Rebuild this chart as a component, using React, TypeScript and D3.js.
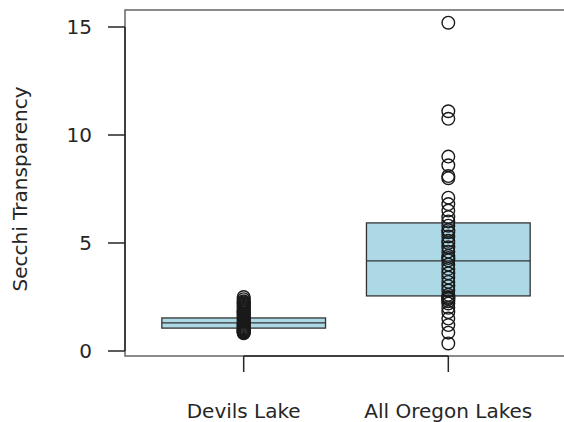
import React from "react";
import * as d3 from "d3";

// groups and their box statistics (lower hinge, median, upper hinge)
const groups = ["Devils Lake", "All Oregon Lakes"];
const lowerHinge = [1.06, 2.55];
const medians = [1.3, 4.17];
const upperHinge = [1.53, 5.93];

// individual secchi readings, overlaid on each box
const devilsLake = [
  2.5, 2.4, 2.3, 2.25, 2.2, 2.15, 2.1, 2.05, 2.0, 1.95, 1.9, 1.85, 1.8, 1.75,
  1.7, 1.65, 1.6, 1.55, 1.5, 1.45, 1.4, 1.35, 1.3, 1.25, 1.2, 1.15, 1.1, 1.05,
  1.0, 0.97, 0.95, 0.92, 0.9, 0.88, 0.85, 0.82,
];
const oregonLakes = [
  15.2, 11.1, 10.75, 9.0, 8.6, 8.1, 8.0, 7.1, 6.8, 6.5, 6.2, 6.0, 5.8, 5.6,
  5.5, 5.3, 5.1, 5.0, 4.8, 4.6, 4.4, 4.3, 4.2, 4.0, 3.8, 3.6, 3.4, 3.2, 3.0,
  2.8, 2.6, 2.5, 2.45, 2.4, 2.3, 2.2, 2.0, 1.8, 1.5, 1.2, 0.85, 0.35,
];
const readings = [devilsLake, oregonLakes];
const yTicks = [0, 5, 10, 15];

const W = 564;
const H = 422;
const left = 125;
const right = 567;
const top = 10;
const bottom = 356;
const font = "DejaVu Sans, sans-serif";
const ink = "#262626";

export default function App() {
  const x = d3.scalePoint().domain(groups).range([left, right]).padding(0.58);
  const y = d3.scaleLinear().domain([0, 15]).range([351, 27]);
  const boxW = x.step() * 0.8;

  return (
    <svg
      width={W}
      height={H}
      style={{ position: "absolute", left: 0, top: 0, background: "#fff" }}
    >
      {/* plot frame */}
      <rect
        x={left}
        y={top}
        width={right - left}
        height={bottom - top}
        fill="none"
        stroke="#666"
        strokeWidth={1.5}
      />

      {groups.map((g, i) => {
        const cx = x(g)!;
        return (
          <g key={g}>
            <rect
              x={cx - boxW / 2}
              y={y(upperHinge[i])}
              width={boxW}
              height={y(lowerHinge[i]) - y(upperHinge[i])}
              fill="#add8e6"
              stroke="#333"
              strokeWidth={1.3}
            />
            <line
              x1={cx - boxW / 2}
              x2={cx + boxW / 2}
              y1={y(medians[i])}
              y2={y(medians[i])}
              stroke="#333"
              strokeWidth={1.3}
            />
            {readings[i].map((v, j) => (
              <circle
                key={j}
                cx={cx}
                cy={y(v)}
                r={6.3}
                fill="none"
                stroke="#1a1a1a"
                strokeWidth={1.4}
              />
            ))}
          </g>
        );
      })}

      {/* y axis */}
      <line x1={left} x2={left} y1={y(15)} y2={y(0)} stroke={ink} strokeWidth={1.5} />
      {yTicks.map((t) => (
        <g key={t}>
          <line x1={108} x2={left} y1={y(t)} y2={y(t)} stroke={ink} strokeWidth={1.5} />
          <text
            x={92}
            y={y(t)}
            dy="0.36em"
            textAnchor="end"
            fontFamily={font}
            fontSize={20}
            fill={ink}
          >
            {t}
          </text>
        </g>
      ))}
      <text
        transform={`translate(27,${(y(0) + y(15)) / 2}) rotate(-90)`}
        textAnchor="middle"
        fontFamily={font}
        fontSize={20}
        fill={ink}
      >
        Secchi Transparency
      </text>

      {/* x axis */}
      <line
        x1={x(groups[0])}
        x2={x(groups[1])}
        y1={bottom}
        y2={bottom}
        stroke={ink}
        strokeWidth={1.5}
      />
      {groups.map((g) => (
        <g key={g}>
          <line x1={x(g)} x2={x(g)} y1={bottom} y2={372} stroke={ink} strokeWidth={1.5} />
          <text
            x={x(g)}
            y={418}
            textAnchor="middle"
            fontFamily={font}
            fontSize={20}
            fill={ink}
          >
            {g}
          </text>
        </g>
      ))}
    </svg>
  );
}
